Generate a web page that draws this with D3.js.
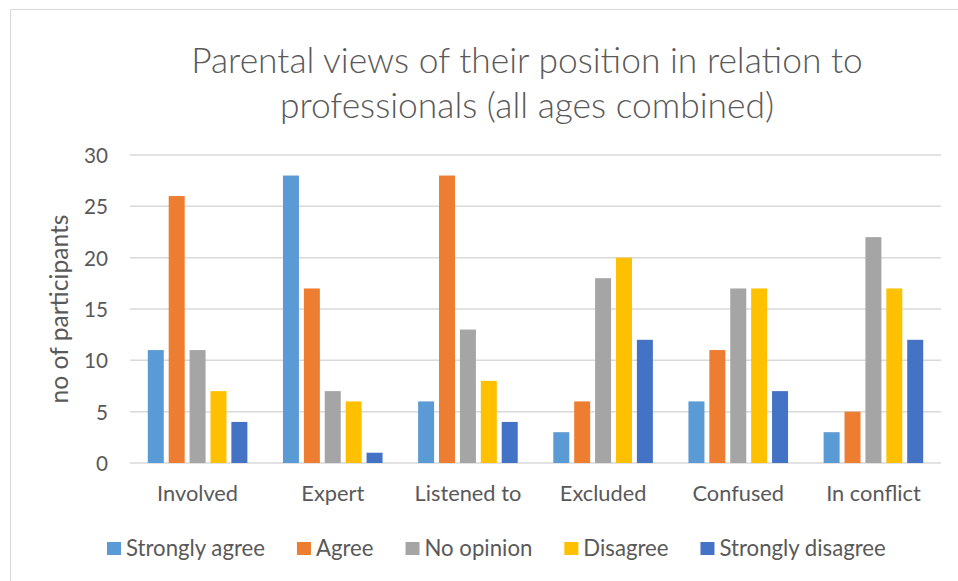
<!DOCTYPE html>
<html><head><meta charset="utf-8">
<script src="https://cdn.jsdelivr.net/npm/d3@7"></script>
<style>html,body{margin:0;padding:0;background:#fff;}svg{display:block;}</style>
</head><body>
<svg id="chart" width="958" height="581"></svg>
<script>
const categories = ["Involved", "Expert", "Listened to", "Excluded", "Confused", "In conflict"];
const seriesNames = ["Strongly agree", "Agree", "No opinion", "Disagree", "Strongly disagree"];
const stronglyAgree = [11, 28, 6, 3, 6, 3];
const agree = [26, 17, 28, 6, 11, 5];
const noOpinion = [11, 7, 13, 18, 17, 22];
const disagree = [7, 6, 8, 20, 17, 17];
const stronglyDisagree = [4, 1, 4, 12, 7, 12];
const seriesColors = ["#5B9BD5", "#ED7D31", "#A5A5A5", "#FFC000", "#4472C4"];
const yTicks = [0, 5, 10, 15, 20, 25, 30];
const titleLines = ["Parental views of their position in relation to", "professionals (all ages combined)"];
const yAxisTitle = "no of participants";

const seriesValues = [stronglyAgree, agree, noOpinion, disagree, stronglyDisagree];
const FONT = "Lato, 'Open Sans', 'Liberation Sans', sans-serif";
const TXT = "#595959";

const svg = d3.select("#chart");
svg.append("rect").attr("x", 0).attr("y", 0).attr("width", 958).attr("height", 581).attr("fill", "#fff");
svg.append("path").attr("d", "M10.5,581 L10.5,9.5 L958,9.5").attr("fill", "none").attr("stroke", "#d9d9d9").attr("stroke-width", 1);

// measure helper: font size that makes a string reach a target width
function fitSize(str, target, weight) {
  const t = svg.append("text").attr("font-family", FONT).attr("font-size", 100)
    .attr("font-weight", weight || 400).text(str);
  const w = t.node().getComputedTextLength();
  t.remove();
  return 100 * target / w;
}

const plot = {left: 130, right: 941, top: 155, bottom: 463};
const x = d3.scaleBand().domain(categories).range([plot.left, plot.right]).paddingInner(0).paddingOuter(0);
const y = d3.scaleLinear().domain([0, 30]).range([plot.bottom, plot.top]);
const groupW = 104.5;
const inner = d3.scaleBand().domain(seriesNames).range([0, groupW]);
const barW = 16;

// title
const titleSize = fitSize(titleLines[0], 672, 300);
const title = svg.append("text").attr("font-family", FONT).attr("font-weight", 300).attr("font-size", titleSize).attr("fill", TXT).attr("text-anchor", "middle");
titleLines.forEach((t, i) => {
  title.append("tspan").attr("x", 527).attr("y", 73 + i * 45).text(t);
});

// gridlines
svg.append("g").selectAll("line").data(yTicks).join("line")
  .attr("x1", plot.left).attr("x2", plot.right)
  .attr("y1", d => y(d)).attr("y2", d => y(d))
  .attr("stroke", "#d9d9d9").attr("stroke-width", 1.5);

// y axis labels
const tickSize = fitSize("30", 24);
const yAxis = d3.axisLeft(y).tickValues(yTicks).tickSize(0).tickPadding(0);
const yg = svg.append("g").attr("transform", `translate(${plot.left - 22},0)`).call(yAxis);
yg.select(".domain").remove();
yg.selectAll("text").attr("font-family", FONT).attr("font-size", tickSize).attr("fill", TXT).attr("dy", "0.36em");

// x axis labels
const xSize = fitSize("Involved", 81);
const xAxis = d3.axisBottom(x).tickSize(0).tickPadding(0);
const xg = svg.append("g").attr("transform", `translate(0,${plot.bottom})`).call(xAxis);
xg.select(".domain").remove();
xg.selectAll("text").attr("font-family", FONT).attr("font-size", xSize).attr("fill", TXT).attr("y", 38).attr("dy", 0);

// y axis title
const ytSize = fitSize(yAxisTitle, 189);
svg.append("text").attr("transform", `translate(68,${(plot.top + plot.bottom) / 2}) rotate(-90)`)
  .attr("text-anchor", "middle").attr("font-family", FONT).attr("font-size", ytSize).attr("fill", TXT).text(yAxisTitle);

// bars
const groups = svg.append("g").selectAll("g").data(categories).join("g")
  .attr("transform", d => `translate(${x(d) + x.bandwidth() / 2 - groupW / 2},0)`);
groups.selectAll("rect").data((c, ci) => seriesNames.map((s, si) => ({s, si, v: seriesValues[si][ci]}))).join("rect")
  .attr("x", d => inner(d.s) + (inner.bandwidth() - barW) / 2)
  .attr("width", barW)
  .attr("y", d => y(d.v))
  .attr("height", d => y(0) - y(d.v))
  .attr("fill", d => seriesColors[d.si]);

// legend
const legSize = fitSize("Strongly agree", 139);
const lg = svg.append("g").attr("transform", "translate(107,548)");
let lx = 0;
seriesNames.forEach((s, i) => {
  const g = lg.append("g").attr("transform", `translate(${lx},0)`);
  g.append("rect").attr("x", 0).attr("y", -6).attr("width", 14).attr("height", 13).attr("fill", seriesColors[i]);
  const t = g.append("text").attr("x", 19).attr("y", 0).attr("dy", "0.36em").attr("font-family", FONT).attr("font-size", legSize).attr("fill", TXT).text(s);
  lx += 19 + t.node().getComputedTextLength() + 32;
});
</script>
</body></html>
